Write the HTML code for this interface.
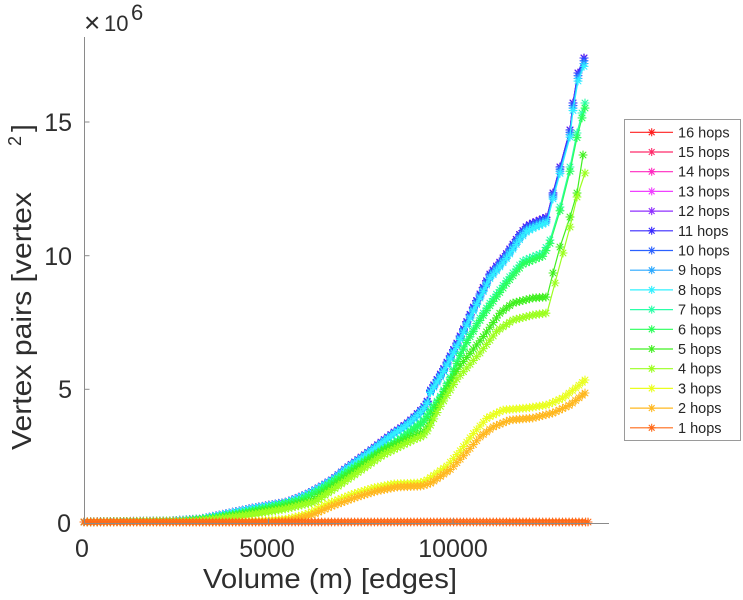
<!DOCTYPE html>
<html><head><meta charset="utf-8"><style>
html,body{margin:0;padding:0;background:#fff;}
svg{display:block;font-family:"Liberation Sans",Arial,sans-serif;}
</style></head><body>
<svg id="chart" width="743" height="600" viewBox="0 0 743 600" xmlns="http://www.w3.org/2000/svg">
<rect x="0" y="0" width="743" height="600" fill="#fff"/>

<!-- series (drawn 16 -> 1) -->
<g id="series" fill="none" stroke-linejoin="round" stroke-linecap="round">
<g class="ser sparse"><polyline stroke="#ff2020" stroke-width="1.2" points="84,522 170,521 200,519 220,515 253,508 287,502 307,494 320,487 333,479 345,469 367,453 380,443 393,433 405,425 413,418 423,408 427,402 430,391 443,370 457,343 463,330 473,308 482,290 490,274 500,262 507,253 520,234 527,226 533,223 547,217 553,193 560,167 570,130 573,103 578,73 584,58"/></g>
<g class="ser sparse"><polyline stroke="#ff2a6a" stroke-width="1.2" points="84,522 170,521 200,519 220,515 253,508 287,502 307,494 320,487 333,479 345,469 367,453 380,443 393,433 405,425 413,418 423,408 427,402 430,391 443,370 457,343 463,330 473,308 482,290 490,274 500,262 507,253 520,234 527,226 533,223 547,217 553,193 560,167 570,130 573,103 578,73 584,58"/></g>
<g class="ser sparse"><polyline stroke="#ff2ac0" stroke-width="1.2" points="84,522 170,521 200,519 220,515 253,508 287,502 307,494 320,487 333,479 345,469 367,453 380,443 393,433 405,425 413,418 423,408 427,402 430,391 443,370 457,343 463,330 473,308 482,290 490,274 500,262 507,253 520,234 527,226 533,223 547,217 553,193 560,167 570,130 573,103 578,73 584,58"/></g>
<g class="ser sparse"><polyline stroke="#f040ff" stroke-width="1.2" points="84,522 170,521 200,519 220,515 253,508 287,502 307,494 320,487 333,479 345,469 367,453 380,443 393,433 405,425 413,418 423,408 427,402 430,391 443,370 457,343 463,330 473,308 482,290 490,274 500,262 507,253 520,234 527,226 533,223 547,217 553,193 560,167 570,130 573,103 578,73 584,58"/></g>
<g class="ser sparse"><polyline stroke="#9030ff" stroke-width="1.2" points="84,522 170,521 200,519 220,515 253,508 287,502 307,494 320,487 333,479 345,469 367,453 380,443 393,433 405,425 413,418 423,408 427,402 430,391 443,370 457,343 463,330 473,308 482,290 490,274 500,262 507,253 520,234 527,226 533,223 547,217 553,193 560,167 570,130 573,103 578,73 584,58"/></g>
<g class="ser sparse"><polyline stroke="#3a2aff" stroke-width="1.2" points="84,522 170,521 200,519 220,515 253,508 287,502 307,494 320,487 333,479 345,469 367,453 380,443 393,433 405,425 413,418 423,408 427,402 430,391 443,370 457,343 463,330 473,308 482,290 490,274 500,262 507,253 520,234 527,226 533,223 547,217 553,193 560,167 570,130 573,103 578,73 584,58"/></g>
<g class="ser sparse" transform="translate(0,522) scale(1,0.994) translate(0,-522)"><polyline stroke="#2a60ff" stroke-width="1.2" points="84,522 170,521 200,519 220,515 253,508 287,502 307,494 320,487 333,479 345,469 367,453 380,443 393,433 405,425 413,418 423,408 427,402 430,391 443,370 457,343 463,330 473,308 482,290 490,274 500,262 507,253 520,234 527,226 533,223 547,217 553,193 560,167 570,130 573,103 578,73 584,58"/></g>
<g class="ser sparse" transform="translate(0,522) scale(1,0.988) translate(0,-522)"><polyline stroke="#2aa8ff" stroke-width="1.2" points="84,522 170,521 200,519 220,515 253,508 287,502 307,494 320,487 333,479 345,469 367,453 380,443 393,433 405,425 413,418 423,408 427,402 430,391 443,370 457,343 463,330 473,308 482,290 490,274 500,262 507,253 520,234 527,226 533,223 547,217 553,193 560,167 570,130 573,103 578,73 584,58"/></g>
<g class="ser sparse" transform="translate(0,522) scale(1,0.982) translate(0,-522)"><polyline stroke="#30f0ff" stroke-width="1.2" points="84,522 170,521 200,519 220,515 253,508 287,502 307,494 320,487 333,479 345,469 367,453 380,443 393,433 405,425 413,418 423,408 427,402 430,391 443,370 457,343 463,330 473,308 482,290 490,274 500,262 507,253 520,234 527,226 533,223 547,217 553,193 560,167 570,130 573,103 578,73 584,58"/></g>
<g class="ser sparse"><polyline stroke="#2affa8" stroke-width="1.2" points="84,522 180,521 210,518 240,513 270,507 300,500 320,490 350,470 383,449 400,439 413,429 423,421 428,414 440,397 450,378 460,354 468,338 480,318 490,303 507,280 523,261 535,256 543,253 550,240 560,207 570,167 577,133 582,113 585,103"/></g>
<g class="ser sparse" transform="translate(0,522) scale(1,0.988) translate(0,-522)"><polyline stroke="#2aff5a" stroke-width="1.2" points="84,522 180,521 210,518 240,513 270,507 300,500 320,490 350,470 383,449 400,439 413,429 423,421 428,414 440,397 450,378 460,354 468,338 480,318 490,303 507,280 523,261 535,256 543,253 550,240 560,207 570,167 577,133 582,113 585,103"/></g>
<g class="ser sparse"><polyline stroke="#40f020" stroke-width="1.2" points="84,522 190,521 220,518 250,513 280,508 313,500 350,474 383,451 413,436 423,432 428,426 440,401 460,366 483,337 500,313 513,303 533,298 547,297 553,273 560,247 570,217 577,193 583,155"/></g>
<g class="ser sparse"><polyline stroke="#9cff20" stroke-width="1.2" points="84,522 195,521 225,518 255,514 285,509 315,502 350,478 383,455 413,440 423,436 428,430 440,407 457,379 480,353 497,331 513,320 533,315 547,313 555,283 563,253 570,227 577,197 585,173"/></g>
<g class="ser"><polyline stroke="#eaff20" stroke-width="1.2" points="84,522 220,522 260,521 287,519 307,514 327,504 353,494 373,488 393,484 420,483 427,480 447,466 460,451 473,434 487,418 503,410 527,408 547,405 563,398 577,387 585,380"/></g>
<g class="ser"><polyline stroke="#ffb820" stroke-width="1.2" points="84,522 230,522 270,522 292,520 312,515 332,506 357,497 377,491 397,487 422,486 431,483 451,469 466,453 480,437 493,427 510,420 533,418 553,413 570,405 585,393"/></g>
<g class="ser"><polyline stroke="#ff6a18" stroke-width="1.2" points="84,522 588,522"/></g>
</g>

<!-- axes -->
<g stroke="#8a8a8a" stroke-width="1" fill="none">
<line x1="84.5" y1="37" x2="84.5" y2="523.5"/>
<line x1="84" y1="523.5" x2="609" y2="523.5"/>
<line x1="84.5" y1="122" x2="89.5" y2="122"/>
<line x1="84.5" y1="255.7" x2="89.5" y2="255.7"/>
<line x1="84.5" y1="389.3" x2="89.5" y2="389.3"/>
<line x1="268.5" y1="523.5" x2="268.5" y2="518.5"/>
<line x1="453" y1="523.5" x2="453" y2="518.5"/>
</g>

<!-- tick labels -->
<g fill="#2e2e2e" font-size="25">
<text x="72" y="131" text-anchor="end">15</text>
<text x="72" y="265" text-anchor="end">10</text>
<text x="72" y="398" text-anchor="end">5</text>
<text x="71" y="532" text-anchor="end">0</text>
<text x="82" y="557" text-anchor="middle">0</text>
<text x="267" y="557" text-anchor="middle">5000</text>
<text x="453" y="557" text-anchor="middle">10000</text>
</g>

<!-- exponent -->
<g fill="#2e2e2e">
<text x="84" y="32" font-size="28">×</text>
<text x="104" y="31" font-size="22">10</text>
<text x="131" y="20" font-size="22">6</text>
</g>

<!-- axis labels -->
<text x="203" y="588" font-size="28" fill="#2e2e2e" textLength="254" lengthAdjust="spacingAndGlyphs">Volume (m) [edges]</text>
<g fill="#2e2e2e">
<text transform="translate(31,450) rotate(-90)" font-size="28" textLength="258" lengthAdjust="spacingAndGlyphs">Vertex pairs [vertex</text>
<text transform="translate(21,146) rotate(-90)" font-size="18">2</text>
<text transform="translate(31,132) rotate(-90)" font-size="28">]</text>
</g>

<!-- legend -->
<rect x="624.5" y="119.5" width="116" height="321" fill="#fff" stroke="#9a9a9a" stroke-width="1"/>
<g id="legend" font-size="14.5" fill="#262626"></g>
</svg>
<script>
(function(){
  var NS="http://www.w3.org/2000/svg";
  var groups=document.querySelectorAll('g.ser');
  var r=4, q=2.9;
  function star(x,y){
    return "M"+(x-r)+" "+y+"h"+(2*r)+"M"+x+" "+(y-r)+"v"+(2*r)+
           "M"+(x-q)+" "+(y-q)+"l"+(2*q)+" "+(2*q)+"M"+(x-q)+" "+(y+q)+"l"+(2*q)+" "+(-2*q);
  }
  groups.forEach(function(g){
    var sparse=g.classList.contains('sparse');
    var pl=g.querySelector('polyline');
    var col=pl.getAttribute('stroke');
    var P=[];
    var pts=pl.points;
    for(var i=0;i<pts.numberOfItems;i++){var p=pts.getItem(i);P.push([p.x,p.y]);}
    var d="";
    var x0=P[0][0], xl=P[P.length-1][0];
    var lim=sparse?Math.min(547,xl):xl;
    var j=0;
    for(var x=x0;x<=lim+0.01;x+=3.3){
      while(j<P.length-2 && P[j+1][0]<x) j++;
      var a=P[j],b=P[j+1];
      var t=(b[0]-a[0])?(x-a[0])/(b[0]-a[0]):0;
      var y=a[1]+t*(b[1]-a[1]);
      d+=star(x,y);
    }
    if(sparse){
      for(var k=0;k<P.length;k++){ if(P[k][0]>lim+0.01) d+=star(P[k][0],P[k][1]); }
    } else {
      d+=star(xl,P[P.length-1][1]);
    }
    var path=document.createElementNS(NS,'path');
    path.setAttribute('d',d);
    path.setAttribute('stroke',col);
    path.setAttribute('stroke-width','1.1');
    path.setAttribute('fill','none');
    g.appendChild(path);
  });
  // legend
  var cols=["#ff2020","#ff2a6a","#ff2ac0","#f040ff","#9030ff","#3a2aff","#2a60ff","#2aa8ff","#30f0ff","#2affa8","#2aff5a","#40f020","#9cff20","#eaff20","#ffb820","#ff6a18"];
  var lg=document.getElementById('legend');
  for(var i=0;i<16;i++){
    var yc=132.3+i*19.7;
    var ln=document.createElementNS(NS,'line');
    ln.setAttribute('x1',630);ln.setAttribute('x2',673);
    ln.setAttribute('y1',yc);ln.setAttribute('y2',yc);
    ln.setAttribute('stroke',cols[i]);ln.setAttribute('stroke-width','1.2');
    lg.appendChild(ln);
    var s=document.createElementNS(NS,'path');
    s.setAttribute('d',star(651.7,yc));
    s.setAttribute('stroke',cols[i]);s.setAttribute('stroke-width','1.1');s.setAttribute('fill','none');
    lg.appendChild(s);
    var tx=document.createElementNS(NS,'text');
    tx.setAttribute('x',678);tx.setAttribute('y',yc+5);
    tx.textContent=(16-i)+" hops";
    lg.appendChild(tx);
  }
})();
</script>
</body></html>
